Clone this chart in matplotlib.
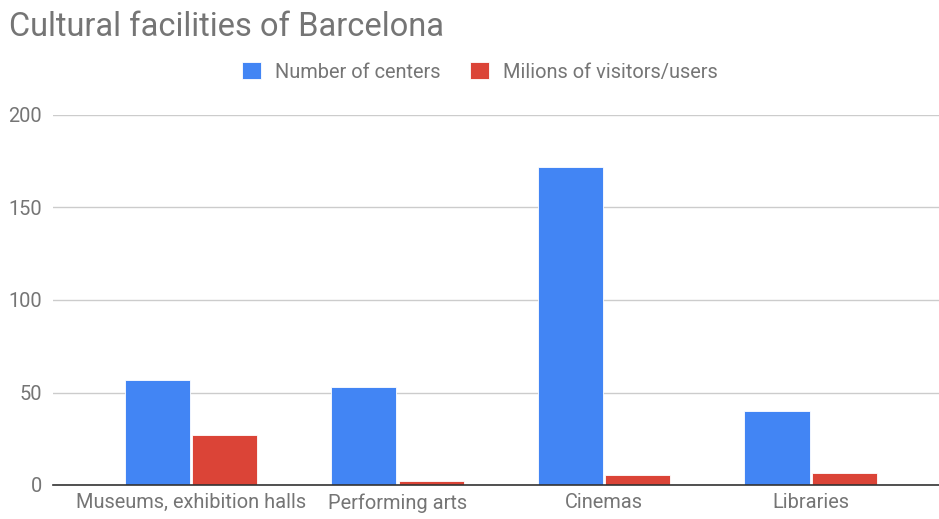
import numpy as np
import matplotlib.pyplot as plt

plt.rcParams['font.family'] = ['Roboto', 'DejaVu Sans']

categories = ['Museums, exhibition halls', 'Performing arts', 'Cinemas', 'Libraries']
centers = [57, 53, 172, 40]
visitors = [27, 2, 5.5, 6.3]
series_names = ['Number of centers', 'Milions of visitors/users']

BLUE = '#4285F4'
RED = '#DB4437'
TEXT = '#757575'
FS = 14.4

fig = plt.figure(figsize=(9.39, 5.19), dpi=100)
ax = fig.add_axes([53 / 939, 1 - 485 / 519, 1 - 53 / 939, (485 - 115) / 519])

x = np.arange(len(categories))
w = 0.315
b1 = ax.bar(x - w / 2 - 0.005, centers, w, color=BLUE, edgecolor='white', linewidth=0.6,
            label=series_names[0], zorder=3)
b2 = ax.bar(x + w / 2 + 0.005, visitors, w, color=RED, edgecolor='white', linewidth=0.6,
            label=series_names[1], zorder=3)

ax.set_xlim(-0.668, 3.622)
ax.set_ylim(0, 200)
ax.set_yticks([0, 50, 100, 150, 200])
ax.set_xticks(x)
ax.set_xticklabels(categories)
ax.tick_params(axis='both', length=0, colors=TEXT, labelsize=FS)
ax.tick_params(axis='y', pad=8)
ax.tick_params(axis='x', pad=6)

ax.grid(axis='y', color='#cccccc', linewidth=1, zorder=0)
ax.set_axisbelow(True)
for s in ['top', 'right', 'left']:
    ax.spines[s].set_visible(False)
ax.spines['bottom'].set_color('#333333')
ax.spines['bottom'].set_linewidth(1.2)
ax.spines['bottom'].set_zorder(4)

fig.text(9 / 939, 1 - 36 / 519, 'Cultural facilities of Barcelona', fontsize=23.5,
         color=TEXT, va='baseline', ha='left')

fig.legend(handles=[b1, b2], labels=series_names, loc='center',
           bbox_to_anchor=(480 / 939, 1 - 72 / 519), ncol=2, frameon=False,
           handlelength=0.95, handleheight=0.95, handletextpad=0.7, columnspacing=1.45,
           fontsize=FS, labelcolor=TEXT)

fig.savefig('out.png', dpi=100)
